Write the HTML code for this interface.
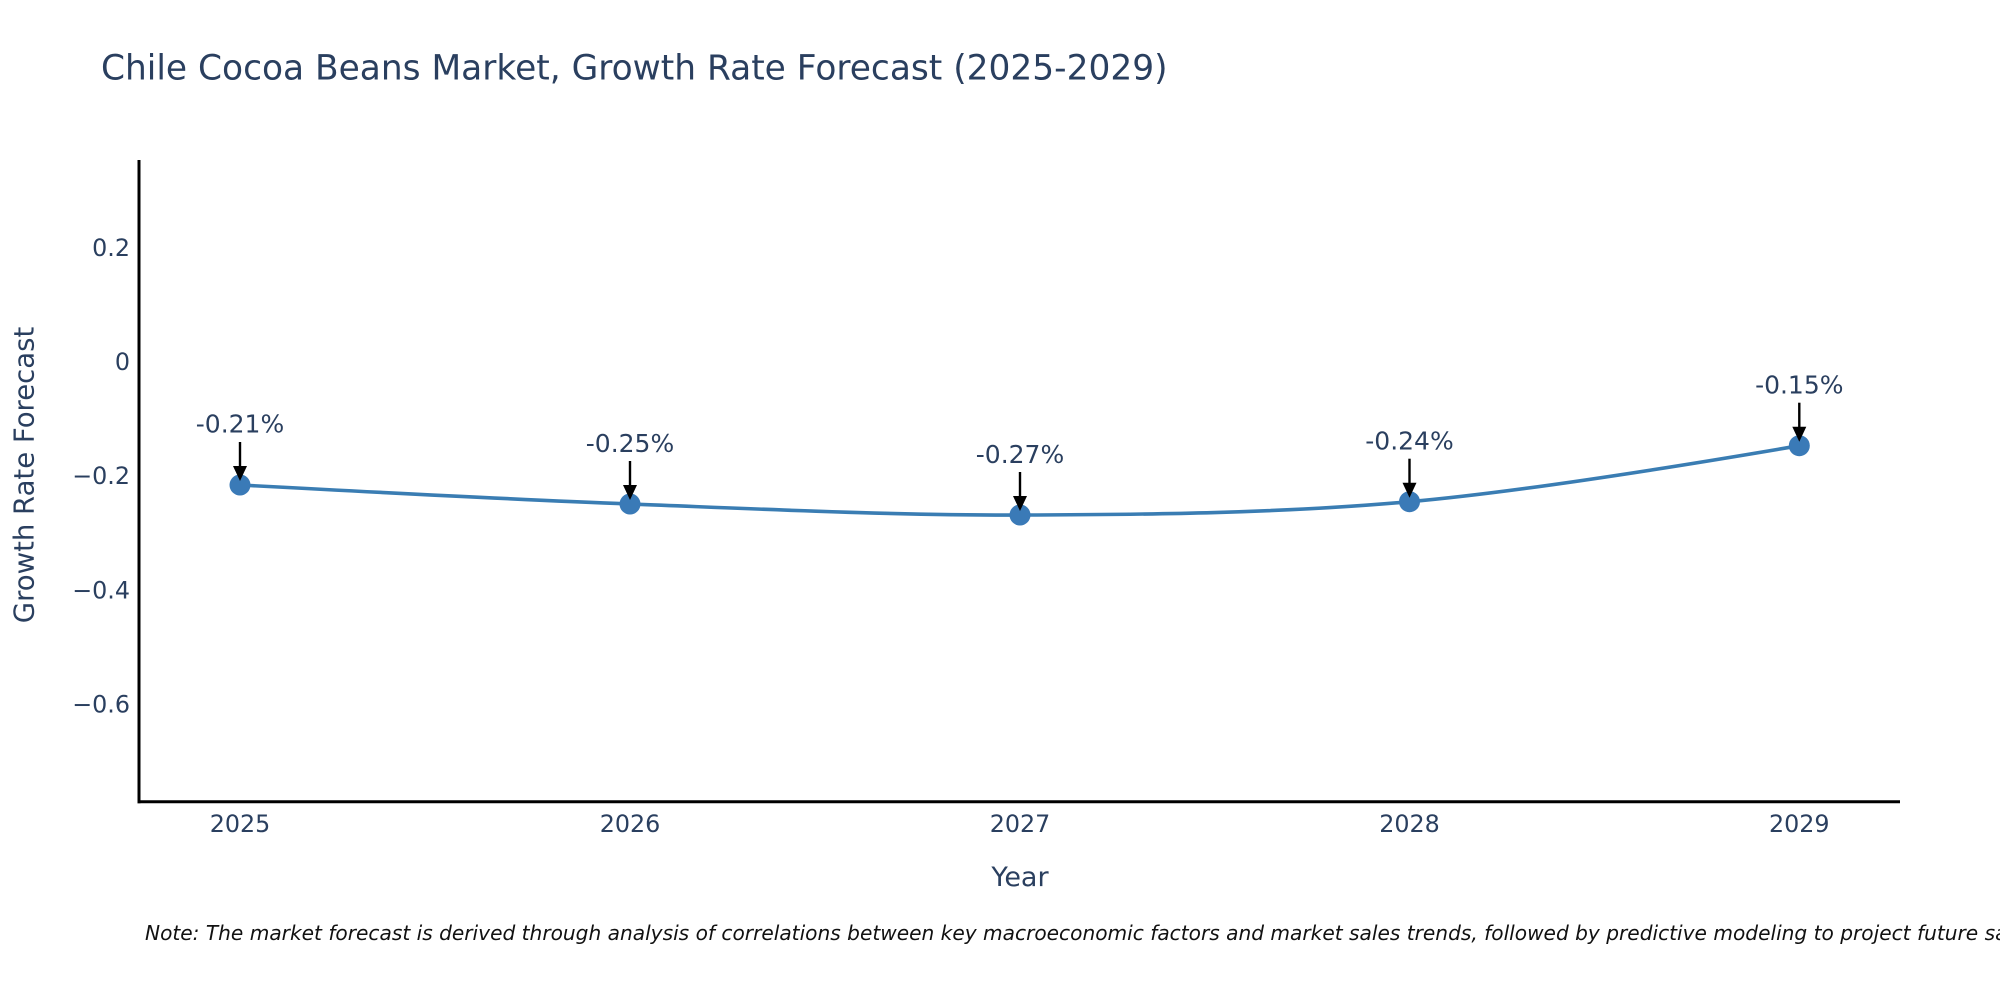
<!DOCTYPE html>
<html>
<head>
<meta charset="utf-8">
<style>
  html, body { margin: 0; padding: 0; background: #fff; }
  body { width: 2000px; height: 1000px; overflow: hidden; }
  svg { display: block; }
  text { font-family: "DejaVu Sans", "Liberation Sans", sans-serif; }
</style>
</head>
<body>
<svg width="2000" height="1000" viewBox="0 0 2000 1000" xmlns="http://www.w3.org/2000/svg">
  <rect x="0" y="0" width="2000" height="1000" fill="#ffffff"/>

  <!-- Title -->
  <text x="101" y="79.5" font-size="34.4" fill="#2a3f5f">Chile Cocoa Beans Market, Growth Rate Forecast (2025-2029)</text>

  <!-- Axes -->
  <line x1="139" y1="160" x2="139" y2="803.2" stroke="#000" stroke-width="3"/>
  <line x1="137.5" y1="801.7" x2="1900" y2="801.7" stroke="#000" stroke-width="3"/>

  <!-- Y tick labels -->
  <g font-size="23.8" fill="#2a3f5f" text-anchor="end">
    <text x="130" y="256">0.2</text>
    <text x="130" y="369.8">0</text>
    <text x="130" y="484.2">−0.2</text>
    <text x="130" y="598.4">−0.4</text>
    <text x="130" y="712.6">−0.6</text>
  </g>

  <!-- X tick labels -->
  <g font-size="23.8" fill="#2a3f5f" text-anchor="middle">
    <text x="240" y="832">2025</text>
    <text x="630" y="832">2026</text>
    <text x="1020" y="832">2027</text>
    <text x="1409.5" y="832">2028</text>
    <text x="1799.3" y="832">2029</text>
  </g>

  <!-- Axis titles -->
  <text x="1020" y="886" font-size="27" fill="#2a3f5f" text-anchor="middle">Year</text>
  <text transform="translate(33.5,475) rotate(-90)" x="0" y="0" font-size="27.5" fill="#2a3f5f" text-anchor="middle">Growth Rate Forecast</text>

  <!-- Series line (spline) -->
  <path d="M240,485 Q500,499 630,504 C760,509 890,515.38 1020,515 C1150,514.62 1279.5,513.25 1409.5,501.7 Q1539.5,490.15 1799.3,445.7"
        fill="none" stroke="#3a7db3" stroke-width="3.6" stroke-linejoin="round"/>

  <!-- Markers -->
  <g fill="#3a7ab7">
    <circle cx="240" cy="485" r="10.5"/>
    <circle cx="630" cy="504" r="10.5"/>
    <circle cx="1020" cy="515" r="10.5"/>
    <circle cx="1409.5" cy="501.7" r="10.5"/>
    <circle cx="1799.3" cy="445.7" r="10.5"/>
  </g>

  <!-- Annotations -->
  <g stroke="#000" stroke-width="2.4">
    <line x1="240" y1="442" x2="240" y2="468"/>
    <line x1="630" y1="461" x2="630" y2="487"/>
    <line x1="1020" y1="472" x2="1020" y2="498"/>
    <line x1="1409.5" y1="458.7" x2="1409.5" y2="484.7"/>
    <line x1="1799.3" y1="402.7" x2="1799.3" y2="428.7"/>
  </g>
  <g fill="#000">
    <polygon points="233,466 247,466 240,481"/>
    <polygon points="623,485 637,485 630,500"/>
    <polygon points="1013,496 1027,496 1020,511"/>
    <polygon points="1402.5,482.7 1416.5,482.7 1409.5,497.7"/>
    <polygon points="1792.3,426.7 1806.3,426.7 1799.3,441.7"/>
  </g>
  <g font-size="25" fill="#2a3f5f" text-anchor="middle">
    <text x="240" y="432.5">-0.21%</text>
    <text x="630" y="452">-0.25%</text>
    <text x="1020" y="463">-0.27%</text>
    <text x="1409.5" y="449.7">-0.24%</text>
    <text x="1799.3" y="393.7">-0.15%</text>
  </g>

  <!-- Note -->
  <text x="145" y="940" font-size="20.15" font-style="italic" fill="#111">Note: The market forecast is derived through analysis of correlations between key macroeconomic factors and market sales trends, followed by predictive modeling to project future sales.</text>
</svg>
</body>
</html>
